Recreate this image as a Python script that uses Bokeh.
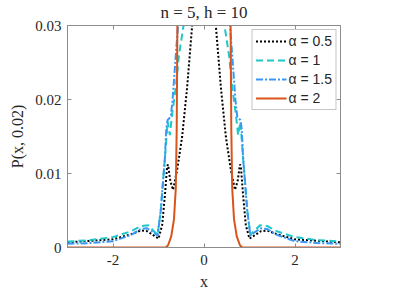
from bokeh.plotting import figure
from bokeh.models import Range1d, LinearAxis, FixedTicker, Legend, LegendItem, CustomLabelingPolicy
from bokeh.embed import file_html
from bokeh.resources import INLINE

# alpha = 0.5 (black dotted)
x_a05 = [-3, -2.5, -2, -1.6, -1.39, -1.25, -1.1, -1.0, -0.92, -0.86, -0.81, -0.79, -0.74, -0.68,
         -0.59, -0.48, -0.37, -0.26, -0.15, 0,
         0.15, 0.26, 0.37, 0.48, 0.59, 0.68, 0.74, 0.79, 0.81, 0.86, 0.92, 1.0, 1.1, 1.25, 1.39,
         1.6, 2, 2.5, 3]
y_a05 = [0.0007, 0.0009, 0.0011, 0.0018, 0.0023, 0.0022, 0.0016, 0.0012, 0.003, 0.007, 0.011,
         0.0112, 0.009, 0.0078, 0.0105, 0.015, 0.0217, 0.03, 0.045, 0.06,
         0.045, 0.03, 0.0217, 0.015, 0.0105, 0.0078, 0.009, 0.0112, 0.011, 0.007, 0.003, 0.0012,
         0.0016, 0.0022, 0.0023, 0.0018, 0.0011, 0.0009, 0.0007]

# alpha = 1 (cyan dashed)
x_a1 = [-3, -2.5, -2, -1.6, -1.39, -1.23, -1.1, -1.02, -0.95, -0.9, -0.86, -0.8, -0.75, -0.7,
        -0.62, -0.55, -0.45, -0.3, 0,
        0.3, 0.45, 0.55, 0.62, 0.7, 0.75, 0.8, 0.86, 0.9, 0.95, 1.02, 1.1, 1.23, 1.39, 1.6, 2,
        2.5, 3]
y_a1 = [0.0008, 0.001, 0.0014, 0.0022, 0.0029, 0.003, 0.0022, 0.0017, 0.005, 0.009, 0.012,
        0.017, 0.0152, 0.018, 0.0217, 0.026, 0.03, 0.05, 0.1,
        0.05, 0.03, 0.026, 0.0217, 0.018, 0.0152, 0.017, 0.012, 0.009, 0.005, 0.0017, 0.0022,
        0.003, 0.0029, 0.0022, 0.0014, 0.001, 0.0008]

# alpha = 1.5 (blue dash-dot)
x_a15 = [-3, -2.5, -2, -1.6, -1.39, -1.25, -1.1, -1.02, -0.95, -0.9, -0.86, -0.83, -0.8, -0.73,
         -0.69, -0.62, -0.57, -0.4, 0,
         0.4, 0.57, 0.62, 0.69, 0.73, 0.8, 0.83, 0.86, 0.9, 0.95, 1.02, 1.1, 1.25, 1.39, 1.6, 2,
         2.5, 3]
y_a15 = [0.0005, 0.0006, 0.00085, 0.0017, 0.0025, 0.0026, 0.002, 0.0016, 0.005, 0.009, 0.012,
         0.016, 0.0172, 0.0177, 0.02, 0.026, 0.03, 0.05, 0.1,
         0.05, 0.03, 0.026, 0.02, 0.0177, 0.0172, 0.016, 0.012, 0.009, 0.005, 0.0016, 0.002,
         0.0026, 0.0025, 0.0017, 0.00085, 0.0006, 0.0005]

# alpha = 2 (orange solid)
x_a2 = [-3, -1, -0.84, -0.79, -0.72, -0.66, -0.62, -0.6, -0.585, -0.5, 0,
        0.5, 0.585, 0.6, 0.62, 0.66, 0.72, 0.79, 0.84, 1, 3]
y_a2 = [0, 0, 0, 0.0003, 0.0015, 0.0038, 0.008, 0.016, 0.03, 0.08, 0.3,
        0.08, 0.03, 0.016, 0.008, 0.0038, 0.0015, 0.0003, 0, 0, 0]

labels = ["α = 0.5", "α = 1", "α = 1.5", "α = 2"]
x_ticks = [-2, 0, 2]
y_ticks = [0, 0.01, 0.02, 0.03]

SERIF = "Liberation Serif"
AX_COLOR = "#8c8c8c"
TXT = "#262626"

p = figure(width=400, height=292, output_backend="svg", toolbar_location=None,
           x_range=Range1d(-3, 3), y_range=Range1d(0, 0.03),
           min_border_left=67, min_border_right=60, min_border_top=25, min_border_bottom=44)
p.title.text = "n = 5, h = 10"
p.title.text_font = SERIF
p.title.text_font_size = "17px"
p.title.text_font_style = "normal"
p.title.align = "center"
p.title.text_color = TXT
p.title.standoff = 0
p.grid.visible = False
p.outline_line_color = AX_COLOR
p.background_fill_color = "white"

r1 = p.line(x_a05, y_a05, line_color="black", line_width=2, line_dash="2 2")
r2 = p.line(x_a1, y_a1, line_color="#1ec8c8", line_width=2, line_dash="7 4")
r3 = p.line(x_a15, y_a15, line_color="#3a97f5", line_width=2, line_dash="7 2 2 2")
r4 = p.line(x_a2, y_a2, line_color="#d9541a", line_width=2)

for ax in (p.xaxis[0], p.yaxis[0]):
    ax.major_label_text_font = SERIF
    ax.major_label_text_font_size = "15px"
    ax.major_label_text_color = TXT
    ax.axis_label_text_font = SERIF
    ax.axis_label_text_font_size = "16px"
    ax.axis_label_text_font_style = "normal"
    ax.axis_label_text_color = TXT
    ax.axis_line_color = AX_COLOR
    ax.major_tick_line_color = AX_COLOR
    ax.major_tick_in = 4
    ax.major_tick_out = 0
    ax.minor_tick_line_color = None
p.xaxis.ticker = FixedTicker(ticks=x_ticks)
p.yaxis.ticker = FixedTicker(ticks=y_ticks)
p.xaxis.major_label_overrides = {-2: "-2", 0: "0", 2: "2"}
p.yaxis.major_label_overrides = {0: "0", 0.01: "0.01", 0.02: "0.02", 0.03: "0.03"}
p.xaxis.major_label_standoff = 7
p.yaxis.major_label_standoff = 6
p.xaxis.axis_label = "x"
p.yaxis.axis_label = "P(x, 0.02)"
p.xaxis.axis_label_standoff = 5
p.yaxis.axis_label_standoff = 6

hide_all = CustomLabelingPolicy(code="""
    for (const i of Array.from(indices)) indices.unset(i)
    return indices
""")
for side, tk in (("above", x_ticks), ("right", y_ticks)):
    ax2 = LinearAxis(ticker=FixedTicker(ticks=tk), major_label_policy=hide_all,
                     major_label_text_font_size="1px",
                     axis_line_color=AX_COLOR, major_tick_line_color=AX_COLOR,
                     major_tick_in=4, major_tick_out=0, minor_tick_line_color=None,
                     major_label_standoff=0, axis_label_standoff=0)
    p.add_layout(ax2, side)

legend = Legend(items=[LegendItem(label=l, renderers=[r]) for l, r in zip(labels, [r1, r2, r3, r4])],
                location="top_right")
legend.label_text_font = "Liberation Sans"
legend.label_text_font_size = "14px"
legend.label_text_color = TXT
legend.glyph_width = 31
legend.glyph_height = 16
legend.label_height = 16
legend.spacing = 3
legend.padding = 3
legend.margin = 4
legend.label_standoff = 2
legend.border_line_color = AX_COLOR
legend.background_fill_alpha = 1
p.add_layout(legend)

open("out.html", "w").write(file_html(p, INLINE))
